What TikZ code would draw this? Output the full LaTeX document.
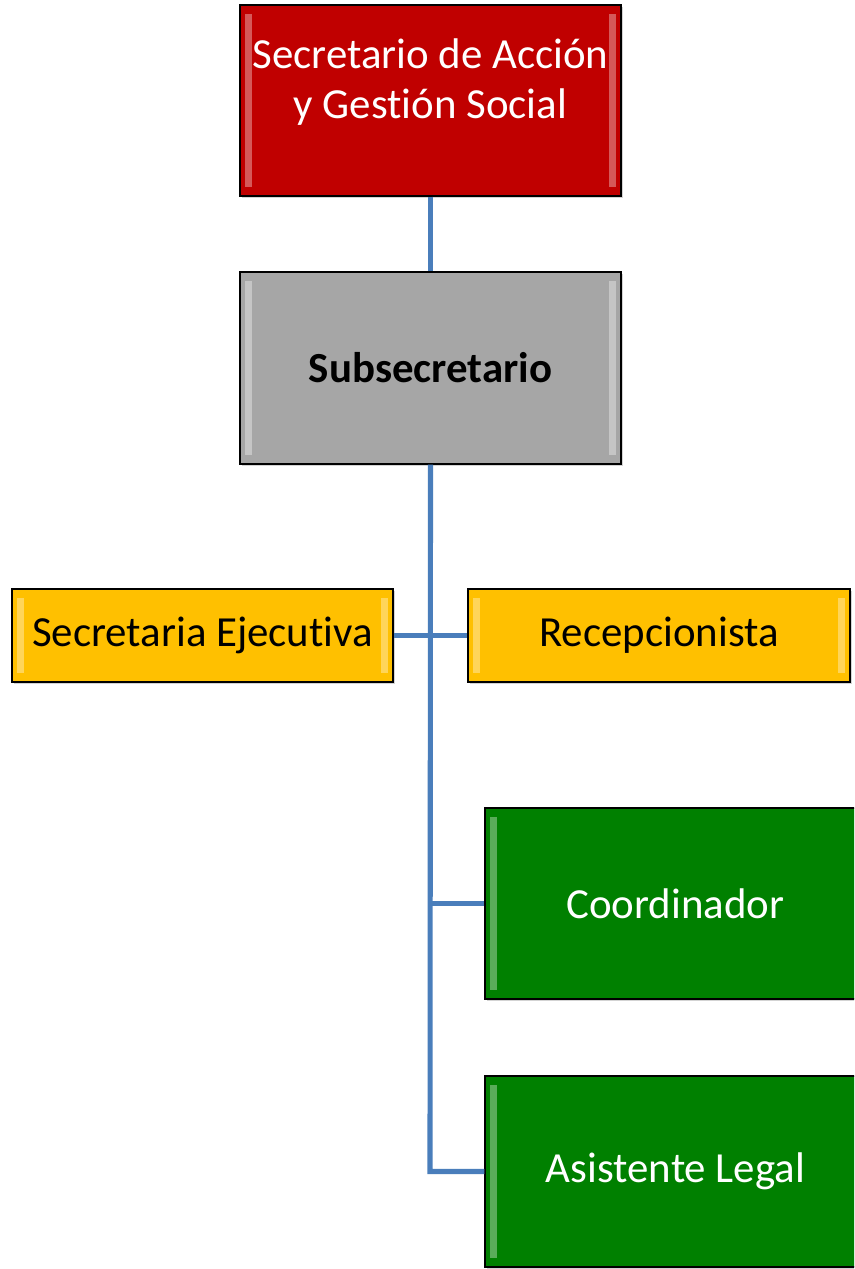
\documentclass[tikz,border=0pt]{standalone}
\usepackage{fontspec}
\setmainfont[Ligatures=NoCommon]{Carlito}
\usepackage{tikz}
\usetikzlibrary{positioning}
\usetikzlibrary{shadows}

\definecolor{jefeRed}{RGB}{192,0,0}
\definecolor{subGray}{RGB}{166,166,166}
\definecolor{apoyoYellow}{RGB}{255,192,0}
\definecolor{areaGreen}{RGB}{0,128,0}
\definecolor{lineBlue}{RGB}{74,126,187}

\tikzset{
  cargo/.style={draw=black, line width=0.8pt, rectangle, align=center,
    font=\fontsize{24.4}{28.4}\selectfont,
    drop shadow={opacity=0.35, shadow xshift=0.04cm, shadow yshift=-0.04cm},
    path picture={
      \fill[white, opacity=0.35]
        ([xshift=3pt, yshift=-5pt]path picture bounding box.north west)
        rectangle ([xshift=7pt, yshift=5pt]path picture bounding box.south west);
      \fill[white, opacity=0.35]
        ([xshift=-3pt, yshift=-5pt]path picture bounding box.north east)
        rectangle ([xshift=-7pt, yshift=5pt]path picture bounding box.south east);
    }},
  enlace/.style={draw=lineBlue, line width=2.9pt}
}

\begin{document}
\begin{tikzpicture}
  \useasboundingbox (0,0) rectangle (17.08,-25.38);
  \clip (0,0) rectangle (17.08,-25.38);

  % Lines
  \coordinate (baseCoord) at (8.6,-18.07);
  \coordinate (baseAsist) at (8.6,-23.43);

  % Boxes
  \node[cargo, fill=jefeRed, text=white, minimum width=7.62cm, minimum height=3.82cm] (secretario) at (8.61,-2.01)
    {Secretario de Acción\\y Gestión Social\\[-3pt]\mbox{}};
  \node[cargo, fill=subGray, font=\fontsize{24.4}{28.4}\selectfont\bfseries, minimum width=7.62cm, minimum height=3.84cm] (subsecretario) at (8.61,-7.36)
    {Subsecretario};
  \node[cargo, fill=apoyoYellow, minimum width=7.62cm, minimum height=1.86cm] (secretaria) at (4.05,-12.71)
    {Secretaria Ejecutiva};
  \node[cargo, fill=apoyoYellow, minimum width=7.64cm, minimum height=1.86cm] (recepcion) at (13.18,-12.71)
    {Recepcionista};
  \node[cargo, fill=areaGreen, text=white, minimum width=7.62cm, minimum height=3.82cm] (coordinador) at (13.51,-18.07)
    {Coordinador};
  \node[cargo, fill=areaGreen, text=white, minimum width=7.62cm, minimum height=3.82cm] (asistente) at (13.51,-23.43)
    {Asistente Legal};

  % Connectors
  \draw[enlace] (secretario.south) -- (subsecretario.north);
  \draw[enlace] (subsecretario.south) -- (baseAsist) -- (asistente.west);
  \draw[enlace] (secretaria.east) -- (recepcion.west);
  \draw[enlace] (baseCoord) -- (coordinador.west);
\end{tikzpicture}
\end{document}
